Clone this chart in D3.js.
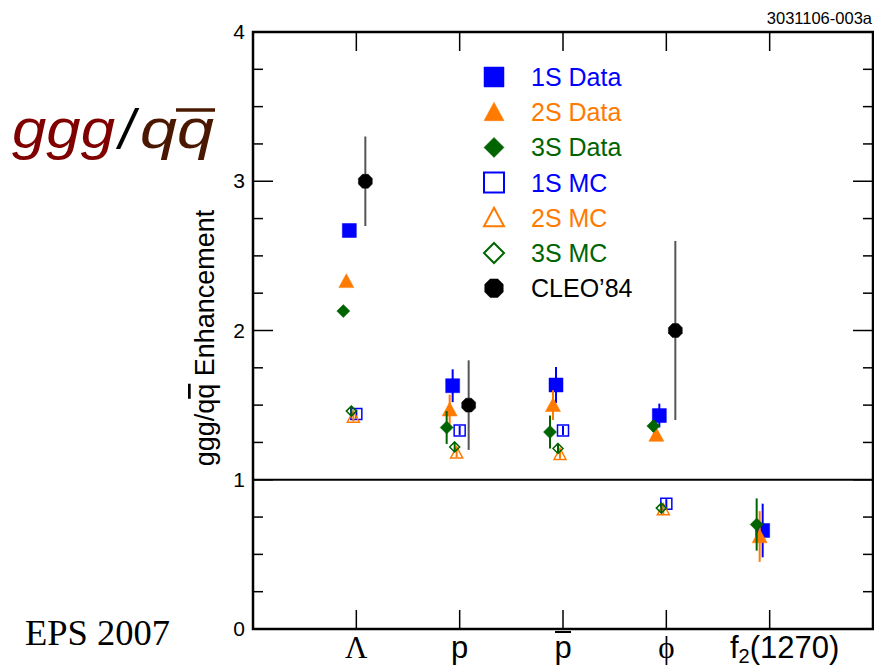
<html>
<head>
<style>
  body { margin: 0; background: white; }
  text { font-family: "Liberation Sans", Arial, sans-serif; }
</style>
</head>
<body>
<svg id="container" width="874" height="672"></svg>
<script src="https://cdn.jsdelivr.net/npm/d3@7"></script>
<script>
    // categories along x
    let categories = ["Lambda", "p", "pbar", "phi", "f2"]

    // enhancement values, one entry per category (null = no point)
    let data1S = [2.67, 1.63, 1.635, 1.43, 0.66]
    let err1S = [0.04, 0.11, 0.12, 0.08, 0.18]
    let data2S = [2.33, 1.47, 1.50, 1.30, 0.62]
    let err2S = [0.03, 0.10, 0.10, 0.03, 0.17]
    let data3S = [2.13, 1.35, 1.32, 1.36, 0.70]
    let err3S = [0.02, 0.11, 0.11, 0.04, 0.175]
    let mc1S = [1.44, 1.33, 1.33, 0.84, null]
    let mc2S = [1.42, 1.18, 1.17, 0.80, null]
    let mc3S = [1.46, 1.22, 1.21, 0.81, null]
    let mcErr = [0.03, 0.03, 0.03, 0.03, null]
    let cleo84 = [3.0, 1.5, null, 2.0, null]
    let cleoErr = [0.3, 0.3, null, 0.6, null]

    let legendLabels = ["1S Data", "2S Data", "3S Data", "1S MC", "2S MC", "3S MC", "CLEO\u201984"]
    let yTicks = [0, 1, 2, 3, 4]

    let blue = "#0000ff", orange = "#ff7a00", green = "#006400"

    let svg = d3.select("#container")

    let x = d3.scaleLinear().domain([-1, 5]).range([253, 873])
    let y = d3.scaleLinear().domain([0, 4]).range([629, 32])

    let series = [
        { vals: mc1S, err: mcErr, shape: "square", fill: false, color: blue, dx: 0, size: 11 },
        { vals: mc2S, err: mcErr, shape: "triangle", fill: false, color: orange, dx: -3, size: 12 },
        { vals: mc3S, err: mcErr, shape: "diamond", fill: false, color: green, dx: -5, size: 10 },
        { vals: data1S, err: err1S, shape: "square", fill: true, color: blue, dx: -7, size: 14 },
        { vals: data2S, err: err2S, shape: "triangle", fill: true, color: orange, dx: -10, size: 15 },
        { vals: data3S, err: err3S, shape: "diamond", fill: true, color: green, dx: -13, size: 13 },
        { vals: cleo84, err: cleoErr, shape: "octagon", fill: true, color: "black", dx: 9, size: 15 }
    ]

    function markerPath(shape, s) {
        let h = s / 2
        if (shape == "square") return `M${-h},${-h}h${s}v${s}h${-s}Z`
        if (shape == "triangle") return `M0,${-h}L${h},${h * 0.85}L${-h},${h * 0.85}Z`
        if (shape == "diamond") return `M0,${-h}L${h},0L0,${h}L${-h},0Z`
        // octagon
        let pts = d3.range(8).map(i => {
            let a = Math.PI / 8 + i * Math.PI / 4
            return [h * Math.cos(a), h * Math.sin(a)]
        })
        return "M" + pts.join("L") + "Z"
    }

    // frame
    svg.append("rect")
        .attr("x", x(-1)).attr("y", y(4))
        .attr("width", x(5) - x(-1)).attr("height", y(0) - y(4))
        .attr("fill", "none").attr("stroke", "black").attr("stroke-width", 2.5)

    // line at 1
    svg.append("line")
        .attr("x1", x(-1)).attr("x2", x(5))
        .attr("y1", y(1)).attr("y2", y(1))
        .attr("stroke", "black").attr("stroke-width", 2)

    // y ticks, left and right
    let minor = d3.range(0, 4.01, 0.25)
    svg.selectAll(".ytick").data(minor).enter().append("line")
        .attr("x1", x(-1)).attr("x2", d => x(-1) + (d % 1 == 0 ? 20 : 10))
        .attr("y1", d => y(d)).attr("y2", d => y(d))
        .attr("stroke", "black").attr("stroke-width", 1.5)
    svg.selectAll(".ytickr").data(minor).enter().append("line")
        .attr("x1", x(5)).attr("x2", d => x(5) - (d % 1 == 0 ? 20 : 10))
        .attr("y1", d => y(d)).attr("y2", d => y(d))
        .attr("stroke", "black").attr("stroke-width", 1.5)

    svg.selectAll(".ylab").data(yTicks).enter().append("text")
        .attr("x", 245).attr("y", d => y(d) + 7)
        .attr("text-anchor", "end").attr("font-size", 21)
        .text(d => d)

    // x ticks, bottom and top
    svg.selectAll(".xtick").data(d3.range(categories.length)).enter().append("line")
        .attr("x1", d => x(d)).attr("x2", d => x(d))
        .attr("y1", y(0)).attr("y2", y(0) - 19)
        .attr("stroke", "black").attr("stroke-width", 1.5)
    svg.selectAll(".xtickt").data(d3.range(categories.length)).enter().append("line")
        .attr("x1", d => x(d)).attr("x2", d => x(d))
        .attr("y1", y(4)).attr("y2", y(4) + 19)
        .attr("stroke", "black").attr("stroke-width", 1.5)

    // x labels
    let xl = 658
    let fs = 31
    svg.append("text").attr("x", x(0)).attr("y", xl).attr("text-anchor", "middle")
        .attr("font-size", fs).style("font-family", "Liberation Serif, serif").text("\u039B")
    svg.append("text").attr("x", x(1)).attr("y", xl).attr("text-anchor", "middle")
        .attr("font-size", fs).text("p")
    svg.append("text").attr("x", x(2)).attr("y", xl).attr("text-anchor", "middle")
        .attr("font-size", fs).text("p")
    svg.append("line").attr("x1", x(2) - 8).attr("x2", x(2) + 8)
        .attr("y1", xl - 26).attr("y2", xl - 26).attr("stroke", "black").attr("stroke-width", 2)
    svg.append("text").attr("x", x(3)).attr("y", xl).attr("text-anchor", "middle")
        .attr("font-size", fs).style("font-family", "Liberation Serif, serif").text("\u03D5")
    let f2 = svg.append("text").attr("x", x(4) + 15).attr("y", xl).attr("text-anchor", "middle")
        .attr("font-size", fs)
    f2.append("tspan").text("f")
    f2.append("tspan").attr("font-size", 20).attr("dy", 5).text("2")
    f2.append("tspan").attr("dy", -5).text("(1270)")

    // y title
    let yt = svg.append("text")
        .attr("transform", "translate(214,338) rotate(-90)")
        .attr("text-anchor", "middle").attr("font-size", 27)
    yt.append("tspan").text("ggg/q")
    yt.append("tspan").attr("text-decoration", "overline").text("q")
    yt.append("tspan").text(" Enhancement")

    // error bars and markers
    series.forEach(s => {
        let pts = s.vals.map((v, i) => ({ i: i, v: v, e: s.err[i] })).filter(d => d.v != null)
        let g = svg.append("g")
        g.selectAll("line").data(pts).enter().append("line")
            .attr("x1", d => x(d.i) + s.dx).attr("x2", d => x(d.i) + s.dx)
            .attr("y1", d => y(d.v - d.e)).attr("y2", d => y(d.v + d.e))
            .attr("stroke", s.color == "black" ? "#555" : s.color)
            .attr("stroke-width", 2)
        g.selectAll("path").data(pts).enter().append("path")
            .attr("transform", d => `translate(${x(d.i) + s.dx},${y(d.v)})`)
            .attr("d", markerPath(s.shape, s.size))
            .attr("fill", s.fill ? s.color : "none")
            .attr("stroke", s.color).attr("stroke-width", s.fill ? 0.5 : 1.5)
    })

    // legend
    let legendOrder = [3, 4, 5, 0, 1, 2, 6]
    let legend = svg.append("g")
    legendLabels.forEach((lab, k) => {
        let s = series[legendOrder[k]]
        let ly = 77 + k * 35.2
        legend.append("path")
            .attr("transform", `translate(494,${ly})`)
            .attr("d", markerPath(s.shape, 20))
            .attr("fill", s.fill ? s.color : "none")
            .attr("stroke", s.color).attr("stroke-width", s.fill ? 0.5 : 2)
        legend.append("text").attr("x", 531).attr("y", ly + 9)
            .attr("font-size", 25).attr("fill", s.color).text(lab)
    })

    // figure id
    svg.append("text").attr("x", 872).attr("y", 24).attr("text-anchor", "end")
        .attr("font-size", 16.5).text("3031106-003a")

    // big title
    let tt = svg.append("text").attr("y", 148)
        .attr("font-size", 56).style("font-style", "italic")
    tt.append("tspan").attr("x", 12).attr("fill", "#800000")
        .attr("textLength", 103).attr("lengthAdjust", "spacingAndGlyphs").text("ggg")
    tt.append("tspan").attr("x", 119).attr("fill", "black").text("/")
    tt.append("tspan").attr("x", 140).attr("fill", "#4a1800")
        .attr("textLength", 74).attr("lengthAdjust", "spacingAndGlyphs").text("qq")
    svg.append("line").attr("x1", 176).attr("x2", 215).attr("y1", 110).attr("y2", 110)
        .attr("stroke", "#4a1800").attr("stroke-width", 3.5)

    svg.append("text").attr("x", 25).attr("y", 645).attr("font-size", 36.5)
        .style("font-family", "Liberation Serif, serif").text("EPS 2007")
</script>
</body>
</html>
